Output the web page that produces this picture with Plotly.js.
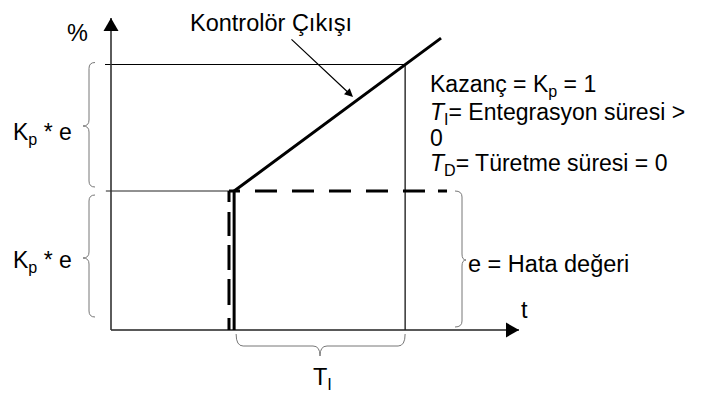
<!DOCTYPE html>
<html>
<head>
<meta charset="utf-8">
<script src="https://cdn.plot.ly/plotly-3.0.1.min.js"></script>
<style>html,body{margin:0;padding:0;background:#fff;}#chart{width:709px;height:394px;}</style>
</head>
<body>
<div id="chart"></div>
<script>
// ---- data (time in units of T_I, level in units of e) ----
const outputT = [0.72, 0.72, 1.93];      // Kontrolör Çıkışı
const outputY = [0, 1, 2.1];
const errVertT = [0.69, 0.69];           // error step (vertical part, drawn top-down)
const errVertY = [1, 0];
const errHorzT = [0.69, 1.965];          // error step (horizontal part)
const errHorzY = [1, 1];
const refTopT = [-0.035, 1.72];          // Kp*e + Kp*e level
const refTopY = [1.91, 1.91];
const refMidT = [-0.03, 0.72];           // Kp*e level
const refMidY = [1, 1];
const refTiT = [1.72, 1.72];             // step time + T_I
const refTiY = [0, 1.91];
const axisT = [0, 2.386];                // t axis extent
const axisY = [0, 2.245];                // % axis extent

// ---- scale (pixel <-> data) ----
const W = 709, H = 394, OX = 111, OY = 330, PXX = 171, PXY = 139;
const X = p => (p - OX) / PXX;
const Y = p => (OY - p) / PXY;
const dX = p => p / PXX;
const dY = p => p / PXY;

const FONT = 'Liberation Sans, Arial, sans-serif';
const txt = '#000';

function line(x, y, color, width, dash) {
  return {x: x, y: y, type: 'scatter', mode: 'lines', hoverinfo: 'skip', showlegend: false,
          line: {color: color, width: width, dash: dash || 'solid'}};
}

const traces = [
  line(refTopT, refTopY, '#000', 1),
  line(refMidT, refMidY, '#222', 1),
  line(refTiT, refTiY, '#000', 1.2),
  line(axisT, [0, 0], '#222', 1.6),
  line([0, 0], axisY, '#333', 1.6),
  line(errVertT, errVertY, '#000', 3, '11px,10px,24px,9px,25px,9px,26px,13px,14px'),
  line(errHorzT, errHorzY, '#000', 3, '11px,15px,22px,15px,22px,15px,22px,15px,22px,15px,22px,13px,12px'),
  line(outputT, outputY, '#000', 3)
];

// braces
function vBrace(xe, xs, xp, y0, y1, ym, r) {
  return `M ${xe},${y1} Q ${xs},${y1} ${xs},${y1 - r} L ${xs},${ym + r} Q ${xs},${ym} ${xp},${ym} ` +
         `Q ${xs},${ym} ${xs},${ym - r} L ${xs},${y0 + r} Q ${xs},${y0} ${xe},${y0}`;
}
function hBrace(ye, ys, yp, x0, x1, xm, r) {
  return `M ${x0},${ye} Q ${x0},${ys} ${x0 + r},${ys} L ${xm - r},${ys} Q ${xm},${ys} ${xm},${yp} ` +
         `Q ${xm},${ys} ${xm + r},${ys} L ${x1 - r},${ys} Q ${x1},${ys} ${x1},${ye}`;
}
const braceStyle = {color: '#777', width: 1};
const shapes = [
  {type: 'path', xref: 'x', yref: 'y', line: braceStyle,
   path: vBrace(X(95), X(89), X(83), refMidY[0] + dY(4), refTopY[0] + dY(2), Y(126), dY(6))},
  {type: 'path', xref: 'x', yref: 'y', line: braceStyle,
   path: vBrace(X(95), X(89), X(83), dY(13), refMidY[0] - dY(4), Y(258), dY(6))},
  {type: 'path', xref: 'x', yref: 'y', line: braceStyle,
   path: vBrace(X(455), X(462), X(466), dY(3), errHorzY[0], Y(260), dY(6))},
  {type: 'path', xref: 'x', yref: 'y', line: braceStyle,
   path: hBrace(Y(334), Y(346), Y(356), outputT[0] + dX(2), refTiT[0], X(320), dX(7))},
  // axis arrowheads
  {type: 'path', xref: 'x', yref: 'y', line: {width: 0}, fillcolor: '#000',
   path: `M 0,${axisY[1]} L ${-dX(7.5)},${axisY[1] - dY(13)} L ${dX(7.5)},${axisY[1] - dY(13)} Z`},
  {type: 'path', xref: 'x', yref: 'y', line: {width: 0}, fillcolor: '#000',
   path: `M ${axisT[1]},0 L ${axisT[1] - dX(13)},${dY(7.5)} L ${axisT[1] - dX(13)},${-dY(7.5)} Z`}
];

function label(text, xp, yp, xanchor, size) {
  return {text: text, x: X(xp), y: Y(yp), xref: 'x', yref: 'y', showarrow: false,
          xanchor: xanchor || 'center', yanchor: 'middle',
          font: {family: FONT, size: size || 23.5, color: txt}};
}

const annotations = [
  label('%', 77, 33),
  label('Kontrolör Çıkışı', 271, 23),
  {text: '', x: X(353), y: Y(97), xref: 'x', yref: 'y', ax: -63, ay: -59,
   showarrow: true, arrowhead: 2, arrowsize: 1.4, arrowwidth: 1.2, arrowcolor: '#000', standoff: 0},
  label('K<sub>p</sub> * e', 11, 133, 'left', 23),
  label('K<sub>p</sub> * e', 11, 261, 'left', 23),
  label('Kazanç = K<sub>p</sub> = 1', 428, 85, 'left', 23),
  label('<i>T</i><sub>I</sub>= Entegrasyon süresi >', 428, 113, 'left', 23),
  label('0', 428, 138, 'left', 23),
  label('<i>T</i><sub>D</sub>= Türetme süresi = 0', 428, 164, 'left', 23),
  label('e = Hata değeri', 466, 264, 'left'),
  label('t', 524, 310),
  label('T<sub>I</sub>', 322, 378)
];

const layout = {
  width: W, height: H,
  margin: {l: 0, r: 0, t: 0, b: 0},
  paper_bgcolor: '#fff', plot_bgcolor: '#fff',
  xaxis: {range: [X(0), X(W)], visible: false, fixedrange: true},
  yaxis: {range: [Y(H), Y(0)], visible: false, fixedrange: true},
  shapes: shapes,
  annotations: annotations,
  showlegend: false
};

Plotly.newPlot('chart', traces, layout, {staticPlot: true, displayModeBar: false});
</script>
</body>
</html>
